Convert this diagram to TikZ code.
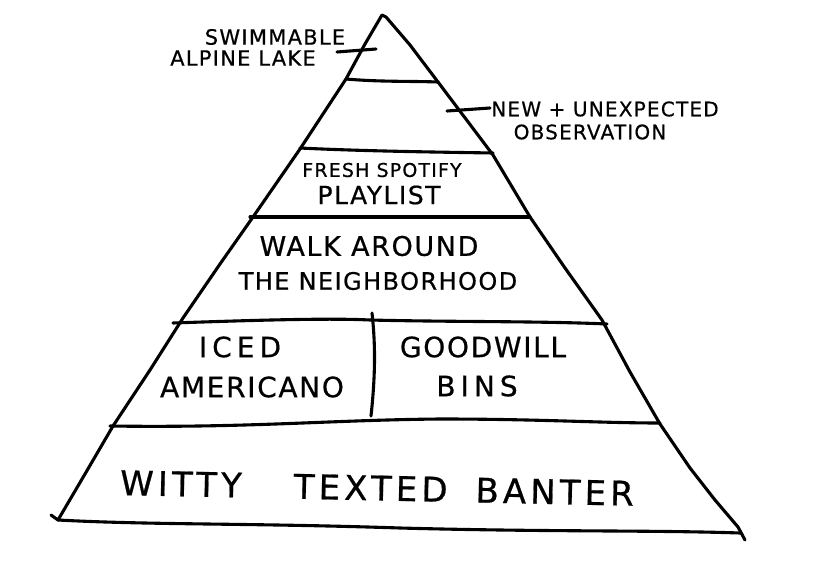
\documentclass[tikz,border=0pt]{standalone}
\usepackage{fontspec}
\newfontfamily\hand[LetterSpace=6,FakeBold=0.6]{DejaVu Sans}
\newfontfamily\handmid[LetterSpace=12,FakeBold=0.6]{DejaVu Sans}
\newfontfamily\handwide[LetterSpace=18,FakeBold=0.6]{DejaVu Sans}
\begin{document}
\begin{tikzpicture}[x=1pt,y=-1pt,
  ink/.style={line width=3.1pt,line cap=round,line join=round,black},
  lbl/.style={inner sep=0pt,anchor=center,font=\hand}]
\useasboundingbox[fill=white] (0,0) rectangle (835,586);
% pyramid sides
\draw[ink] (51,515) -- (58,520) -- (85,474) -- (113,426) -- (150,370) -- (183,318)
  -- (220,264) -- (253,217) -- (300,149) -- (346,79) -- (365,44) -- (382,15)
  -- (386,17) -- (410,45) -- (438,82) -- (493,155) -- (530,217) -- (565,268)
  -- (602,320) -- (630,372) -- (660,424) -- (690,468) -- (715,500) -- (738,527) -- (745,540);
% ticks
\draw[ink] (337,52) -- (376,49);
\draw[ink] (447,111) -- (490,108);
% layer lines
\draw[ink] (346,79) .. controls (380,82) and (410,81) .. (438,82);
\draw[ink] (300,148) .. controls (360,151) and (430,152) .. (493,153);
\draw[ink] (250,217) -- (530,217);
\draw[ink] (173,323) .. controls (260,320) and (330,318) .. (370,320)
  .. controls (450,322) and (540,321) .. (607,324);
\draw[ink] (372,313) .. controls (375,340) and (376,370) .. (371,416);
\draw[ink] (110,426) .. controls (250,428) and (330,420) .. (440,419)
  .. controls (540,419) and (600,423) .. (660,423);
\draw[ink] (58,520) .. controls (150,525) and (250,523) .. (400,528)
  .. controls (550,532) and (650,530) .. (740,533);
% labels
\node[lbl,font=\hand\fontsize{21}{21}\selectfont] (t1) at (275,37) {SWIMMABLE};
\node[lbl,font=\hand\fontsize{21}{21}\selectfont] (t2) at (243,58) {ALPINE LAKE};
\node[lbl,font=\hand\fontsize{20}{20}\selectfont] (t3) at (605,109) {NEW + UNEXPECTED};
\node[lbl,font=\hand\fontsize{20}{20}\selectfont] (t4) at (590,132) {OBSERVATION};
\node[lbl,font=\hand\fontsize{19}{19}\selectfont] (t5) at (382,170) {FRESH SPOTIFY};
\node[lbl,font=\hand\fontsize{25}{25}\selectfont] (t6) at (379,195) {PLAYLIST};
\node[lbl,font=\hand\fontsize{27}{27}\selectfont] (t7) at (369,246) {WALK AROUND};
\node[lbl,font=\hand\fontsize{24}{24}\selectfont] (t8) at (378,281) {THE NEIGHBORHOOD};
\node[lbl,font=\handwide\fontsize{28}{28}\selectfont] (t9) at (240,347) {ICED};
\node[lbl,font=\hand\fontsize{28}{28}\selectfont] (t10) at (252,387) {AMERICANO};
\node[lbl,font=\hand\fontsize{28}{28}\selectfont] (t11) at (483,347) {GOODWILL};
\node[lbl,font=\handwide\fontsize{28}{28}\selectfont] (t12) at (477,386) {BINS};
\node[lbl,font=\handmid\fontsize{34}{34}\selectfont,rotate=-1.2] (t13) at (377,488) {WITTY\hspace{52pt}TEXTED\hspace{28pt}BANTER};
\end{tikzpicture}
\end{document}
